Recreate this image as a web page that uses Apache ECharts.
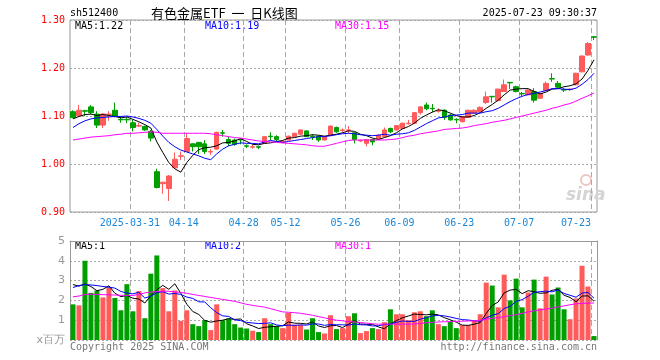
<!DOCTYPE html>
<html><head><meta charset="utf-8">
<script src="https://cdn.jsdelivr.net/npm/echarts@6/dist/echarts.min.js"></script>
<style>html,body{margin:0;padding:0;background:#fff}#c{width:660px;height:360px}</style>
</head><body><div id="c"></div>
<script>
const dates = ['03-17','03-18','03-19','03-20','03-21','03-24','03-25','03-26','03-27','03-28','03-31',
'04-01','04-02','04-03','04-07','04-08','04-09','04-10','04-11','04-14','04-15','04-16','04-17','04-18','04-21','04-22','04-23','04-24','04-25','04-28','04-29','04-30',
'05-06','05-07','05-08','05-09','05-12','05-13','05-14','05-15','05-16','05-19','05-20','05-21','05-22','05-23','05-26','05-27','05-28','05-29','05-30',
'06-03','06-04','06-05','06-06','06-09','06-10','06-11','06-12','06-13','06-16','06-17','06-18','06-19','06-20','06-23','06-24','06-25','06-26','06-27','06-30',
'07-01','07-02','07-03','07-04','07-07','07-08','07-09','07-10','07-11','07-14','07-15','07-16','07-17','07-18','07-21','07-22','07-23'];

const open = [1.109,1.100,1.111,1.119,1.104,1.081,1.103,1.112,1.093,1.093,
1.086,1.079,1.078,1.068,0.984,0.959,0.949,0.992,1.016,1.026,
1.042,1.045,1.042,1.025,1.031,1.065,1.051,1.050,1.051,1.038,
1.035,1.036,1.043,1.058,1.057,1.045,1.050,1.057,1.062,1.069,
1.058,1.058,1.050,1.059,1.076,1.070,1.070,1.065,1.048,1.043,
1.051,1.052,1.057,1.074,1.071,1.074,1.084,1.085,1.107,1.123,
1.116,1.110,1.112,1.102,1.093,1.088,1.097,1.106,1.109,1.128,
1.141,1.132,1.151,1.170,1.161,1.147,1.144,1.151,1.137,1.153,
1.178,1.168,1.155,1.155,1.165,1.192,1.227,1.265];

const close = [1.097,1.112,1.110,1.107,1.081,1.104,1.104,1.100,1.092,1.092,
1.076,1.080,1.071,1.054,0.951,0.962,0.975,1.010,1.017,1.053,
1.036,1.036,1.026,1.026,1.066,1.064,1.043,1.041,1.050,1.037,
1.036,1.035,1.057,1.057,1.051,1.047,1.058,1.064,1.071,1.057,
1.057,1.050,1.057,1.079,1.067,1.071,1.071,1.051,1.049,1.051,
1.046,1.060,1.071,1.067,1.080,1.085,1.085,1.107,1.119,1.115,
1.115,1.111,1.097,1.092,1.092,1.099,1.112,1.112,1.118,1.140,
1.140,1.156,1.165,1.169,1.151,1.146,1.154,1.133,1.147,1.168,
1.177,1.160,1.154,1.156,1.189,1.225,1.251,1.264];

const low = [1.095,1.098,1.100,1.104,1.075,1.075,1.090,1.097,1.086,1.085,
1.068,1.077,1.069,1.047,0.949,0.938,0.923,0.990,1.008,1.026,
1.026,1.021,1.021,1.019,1.030,1.057,1.037,1.038,1.041,1.033,
1.032,1.031,1.042,1.050,1.047,1.043,1.049,1.056,1.061,1.056,
1.050,1.046,1.049,1.058,1.065,1.066,1.064,1.043,1.046,1.037,
1.039,1.051,1.056,1.064,1.070,1.073,1.082,1.083,1.103,1.112,
1.108,1.107,1.092,1.090,1.085,1.087,1.096,1.105,1.108,1.125,
1.128,1.131,1.150,1.156,1.149,1.140,1.143,1.128,1.136,1.152,
1.171,1.158,1.150,1.152,1.164,1.191,1.226,1.258];

const high = [1.112,1.123,1.113,1.123,1.110,1.106,1.110,1.128,1.100,1.097,
1.092,1.086,1.080,1.071,0.990,0.963,0.977,1.024,1.026,1.064,
1.043,1.046,1.050,1.031,1.067,1.071,1.057,1.053,1.053,1.041,
1.040,1.038,1.058,1.066,1.060,1.049,1.059,1.065,1.072,1.070,
1.062,1.059,1.058,1.080,1.078,1.074,1.079,1.066,1.051,1.052,
1.052,1.062,1.076,1.076,1.081,1.086,1.092,1.108,1.121,1.128,
1.125,1.116,1.114,1.104,1.095,1.100,1.113,1.114,1.120,1.151,
1.141,1.157,1.176,1.171,1.163,1.150,1.155,1.158,1.148,1.172,
1.189,1.173,1.158,1.158,1.190,1.226,1.254,1.267];

const ma5 = [1.094,1.099,1.103,1.104,1.101,1.103,1.101,1.099,1.096,1.098,
1.093,1.088,1.082,1.075,1.046,1.024,1.003,0.990,0.983,1.003,
1.018,1.030,1.034,1.035,1.038,1.044,1.045,1.048,1.053,1.047,
1.041,1.040,1.043,1.044,1.047,1.049,1.054,1.055,1.058,1.059,
1.061,1.060,1.058,1.060,1.062,1.065,1.069,1.068,1.062,1.059,
1.054,1.051,1.055,1.059,1.065,1.073,1.078,1.085,1.095,1.102,
1.108,1.113,1.111,1.106,1.101,1.098,1.098,1.101,1.107,1.116,
1.124,1.133,1.144,1.154,1.156,1.157,1.157,1.151,1.146,1.150,
1.156,1.157,1.161,1.163,1.167,1.177,1.195,1.217];

const ma10 = [1.076,1.084,1.090,1.094,1.096,1.097,1.098,1.099,1.099,1.100,
1.098,1.095,1.091,1.085,1.072,1.058,1.045,1.036,1.029,1.025,
1.021,1.017,1.012,1.009,1.021,1.031,1.038,1.041,1.044,1.043,
1.043,1.042,1.046,1.049,1.047,1.045,1.047,1.049,1.051,1.053,
1.055,1.057,1.057,1.059,1.061,1.063,1.064,1.063,1.061,1.060,
1.059,1.060,1.062,1.060,1.062,1.063,1.065,1.070,1.077,1.084,
1.090,1.096,1.098,1.101,1.102,1.103,1.106,1.106,1.106,1.109,
1.111,1.116,1.123,1.130,1.136,1.141,1.145,1.147,1.150,1.153,
1.157,1.157,1.156,1.155,1.158,1.166,1.176,1.189];

const ma30 = [1.050,1.052,1.054,1.056,1.057,1.058,1.059,1.061,1.062,1.064,
1.064,1.065,1.066,1.067,1.066,1.064,1.064,1.064,1.064,1.064,
1.064,1.064,1.064,1.063,1.061,1.059,1.057,1.055,1.054,1.052,
1.050,1.048,1.047,1.046,1.045,1.044,1.043,1.042,1.041,1.040,
1.038,1.037,1.037,1.040,1.043,1.046,1.049,1.050,1.050,1.050,
1.050,1.050,1.050,1.051,1.052,1.055,1.058,1.060,1.063,1.065,
1.067,1.069,1.072,1.073,1.074,1.075,1.077,1.080,1.082,1.084,
1.087,1.089,1.091,1.094,1.097,1.100,1.103,1.106,1.109,1.112,
1.116,1.119,1.123,1.126,1.131,1.137,1.142,1.148];

const volume = [1.80,1.75,4.00,2.38,2.50,2.15,2.67,2.12,1.50,2.82,
1.45,2.47,1.10,3.35,4.27,2.62,1.45,2.50,0.97,1.50,
0.80,0.70,1.00,0.50,1.80,1.00,1.08,0.80,0.63,0.58,
0.47,0.40,1.10,0.80,0.70,0.60,1.37,0.77,0.77,0.53,
1.10,0.40,0.33,1.25,0.55,0.60,1.20,1.35,0.35,0.45,
0.60,0.55,0.90,1.55,1.30,1.30,1.00,1.40,1.45,1.20,
1.50,0.80,0.70,0.92,0.60,0.75,0.75,1.00,1.30,2.90,
2.75,1.65,3.30,2.00,3.10,1.65,2.40,3.05,1.60,3.20,
2.30,2.65,1.55,1.05,2.10,3.75,2.70,0.20];

const vma5 = [2.80,2.72,2.83,2.70,2.49,2.56,2.74,2.36,2.19,2.25,
2.11,2.07,1.87,2.24,2.53,2.76,2.56,2.84,2.36,1.81,
1.44,1.29,0.99,0.90,0.96,1.00,1.08,1.04,1.06,0.82,
0.71,0.58,0.64,0.67,0.69,0.72,0.91,0.85,0.84,0.81,
0.91,0.71,0.63,0.72,0.73,0.63,0.79,0.99,0.81,0.79,
0.79,0.66,0.57,0.81,0.98,1.12,1.21,1.31,1.29,1.27,
1.31,1.27,1.13,1.02,0.90,0.75,0.74,0.80,0.88,1.34,
1.74,1.92,2.38,2.52,2.56,2.34,2.49,2.44,2.36,2.38,
2.51,2.56,2.26,2.15,1.93,2.22,2.23,1.96];

const vma10 = [2.65,2.75,2.80,2.78,2.75,2.70,2.67,2.62,2.45,2.37,
2.33,2.41,2.12,2.21,2.39,2.44,2.32,2.35,2.30,2.17,
2.10,1.93,1.92,1.63,1.38,1.22,1.19,1.02,0.98,0.89,
0.86,0.83,0.84,0.87,0.76,0.72,0.75,0.74,0.76,0.75,
0.81,0.81,0.74,0.78,0.77,0.77,0.75,0.81,0.77,0.76,
0.71,0.72,0.78,0.81,0.89,0.96,0.94,0.94,1.05,1.13,
1.22,1.24,1.22,1.16,1.09,1.03,1.01,0.97,0.95,1.12,
1.25,1.33,1.59,1.70,1.95,2.04,2.21,2.41,2.44,2.47,
2.43,2.53,2.35,2.26,2.16,2.37,2.40,2.11];

const vma30 = [2.18,2.22,2.30,2.31,2.30,2.29,2.28,2.27,2.26,2.25,
2.25,2.30,2.38,2.42,2.45,2.47,2.46,2.43,2.40,2.36,
2.30,2.25,2.20,2.15,2.10,2.05,2.00,1.95,1.88,1.80,
1.75,1.70,1.66,1.58,1.50,1.42,1.40,1.38,1.35,1.30,
1.25,1.18,1.12,1.05,1.00,0.97,0.93,0.91,0.88,0.85,
0.82,0.80,0.80,0.80,0.80,0.80,0.80,0.81,0.84,0.87,
0.89,0.91,0.92,0.93,0.94,0.95,0.96,0.97,1.00,1.05,
1.10,1.13,1.18,1.23,1.28,1.35,1.42,1.47,1.52,1.56,
1.61,1.67,1.72,1.78,1.83,1.85,1.86,1.87];

const tickDates = ['03-31','04-14','04-28','05-12','05-26','06-09','06-23','07-07','07-23'];
const tickLabels = ['2025-03-31','04-14','04-28','05-12','05-26','06-09','06-23','07-07','07-23'];

const MONO = '"DejaVu Sans Mono", "Liberation Mono", monospace';
const UP = '#ff5b5b', DOWN = '#009f00';
const GRIDC = '#a8a8a8';

const candle = dates.map((d, i) => [open[i], close[i], low[i], high[i]]);
const edges = dates.concat(['']);
const tickIdx = tickDates.map(d => dates.indexOf(d));
const volData = volume.map((v, i) => ({ value: v, itemStyle: { color: close[i] >= open[i] ? UP : DOWN } }));
const isTick = (idx) => tickIdx.indexOf(idx) >= 0;

const chart = echarts.init(document.getElementById('c'), null, { renderer: 'canvas' });
const txt = (x, y, text, fill, font, align) => ({
  type: 'text', x: x, y: y, silent: true,
  style: { text: text, fill: fill, font: font, align: align || 'left', verticalAlign: 'middle' }
});

chart.setOption({
  animation: false,
  backgroundColor: '#fff',
  grid: [
    { left: 70, top: 20, width: 527, height: 192, show: true, borderColor: '#999', borderWidth: 1, backgroundColor: 'transparent' },
    { left: 70, top: 241, width: 527, height: 99, show: false }
  ],
  xAxis: [
    { type: 'category', gridIndex: 0, data: dates, boundaryGap: true, show: false, position: 'top' },
    { type: 'category', gridIndex: 0, data: edges, boundaryGap: false, position: 'bottom',
      axisLine: { show: false, onZero: false }, axisTick: { show: false },
      axisLabel: { interval: isTick, margin: 6, color: '#1a88d8', fontFamily: MONO, fontSize: 10,
        formatter: (v, idx) => {
          const k = tickIdx.indexOf(idx);
          if (k < 0) return '';
          return k === tickIdx.length - 1 ? '{r|' + tickLabels[k] + '}' : tickLabels[k];
        },
        rich: { r: { width: 60, align: 'left', color: '#1a88d8', fontFamily: MONO, fontSize: 10 } } },
      splitLine: { show: true, interval: isTick, lineStyle: { color: GRIDC, type: [5, 3], width: 1 } } },
    { type: 'category', gridIndex: 1, data: dates, boundaryGap: true, show: false, position: 'bottom' },
    { type: 'category', gridIndex: 1, data: edges, boundaryGap: false, position: 'top',
      axisLine: { show: true, onZero: false, lineStyle: { color: '#999', width: 1 } },
      axisTick: { show: false }, axisLabel: { show: false },
      splitLine: { show: true, interval: isTick, lineStyle: { color: GRIDC, type: [5, 3], width: 1 } } }
  ],
  yAxis: [
    { type: 'value', gridIndex: 0, min: 0.9, max: 1.3, interval: 0.1,
      axisLine: { show: false }, axisTick: { show: false },
      axisLabel: { color: '#ff0000', fontFamily: MONO, fontSize: 10, margin: 5, formatter: v => v.toFixed(2) },
      splitLine: { show: true, lineStyle: { color: GRIDC, type: [2, 2], width: 1 } } },
    { type: 'value', gridIndex: 1, min: 0, max: 5, interval: 1,
      axisLine: { show: true, lineStyle: { color: '#999', width: 1 } }, axisTick: { show: false },
      axisLabel: { color: '#999', fontFamily: '"DejaVu Sans", sans-serif', fontSize: 11, margin: 5,
        formatter: v => v === 0 ? 'x百万' : String(v) },
      splitLine: { show: true, lineStyle: { color: GRIDC, type: [2, 2], width: 1 } } },
    { type: 'value', gridIndex: 1, min: 0, max: 5, interval: 1, position: 'right',
      axisLine: { show: true, lineStyle: { color: '#999', width: 1 } }, axisTick: { show: false },
      axisLabel: { show: false }, splitLine: { show: false } }
  ],
  series: [
    { type: 'bar', xAxisIndex: 2, yAxisIndex: 1, data: volData, barWidth: 5, silent: true },
    { type: 'line', xAxisIndex: 2, yAxisIndex: 1, data: vma5, symbol: 'none', lineStyle: { color: '#000', width: 1 }, silent: true },
    { type: 'line', xAxisIndex: 2, yAxisIndex: 1, data: vma10, symbol: 'none', lineStyle: { color: '#0000ff', width: 1 }, silent: true },
    { type: 'line', xAxisIndex: 2, yAxisIndex: 1, data: vma30, symbol: 'none', lineStyle: { color: '#ff00ff', width: 1 }, silent: true },
    { type: 'candlestick', xAxisIndex: 0, yAxisIndex: 0, data: candle, barWidth: 5, silent: true,
      itemStyle: { color: UP, color0: DOWN, borderColor: UP, borderColor0: DOWN, borderWidth: 1 } },
    { type: 'line', xAxisIndex: 0, yAxisIndex: 0, data: ma5, symbol: 'none', lineStyle: { color: '#000', width: 1 }, silent: true },
    { type: 'line', xAxisIndex: 0, yAxisIndex: 0, data: ma10, symbol: 'none', lineStyle: { color: '#0000ff', width: 1 }, silent: true },
    { type: 'line', xAxisIndex: 0, yAxisIndex: 0, data: ma30, symbol: 'none', lineStyle: { color: '#ff00ff', width: 1 }, silent: true }
  ],
  graphic: [
    txt(70, 13, 'sh512400', '#000', '10px ' + MONO),
    txt(151, 13, '有色金属ETF  一  日K线图', '#000', '13px "Noto Sans CJK SC", sans-serif'),
    txt(597, 13, '2025-07-23 09:30:37', '#000', '10px ' + MONO, 'right'),
    txt(75, 26, 'MA5:1.22', '#000', '10px ' + MONO),
    txt(205, 26, 'MA10:1.19', '#0000ff', '10px ' + MONO),
    txt(335, 26, 'MA30:1.15', '#ff00ff', '10px ' + MONO),
    txt(75, 246, 'MA5:1', '#000', '10px ' + MONO),
    txt(205, 246, 'MA10:2', '#0000ff', '10px ' + MONO),
    txt(335, 246, 'MA30:1', '#ff00ff', '10px ' + MONO),
    txt(70, 347, 'Copyright 2025 SINA.COM', '#777', '10px ' + MONO),
    txt(597, 347, 'http://finance.sina.com.cn', '#777', '10px ' + MONO, 'right'),
    { type: 'circle', silent: true, shape: { cx: 586, cy: 180, r: 5 }, style: { fill: 'none', stroke: '#f2c4c4', lineWidth: 2 } },
    txt(566, 196, 'sina', '#d4d4d4', 'italic bold 17px "DejaVu Sans", sans-serif')
  ]
});
</script></body></html>
